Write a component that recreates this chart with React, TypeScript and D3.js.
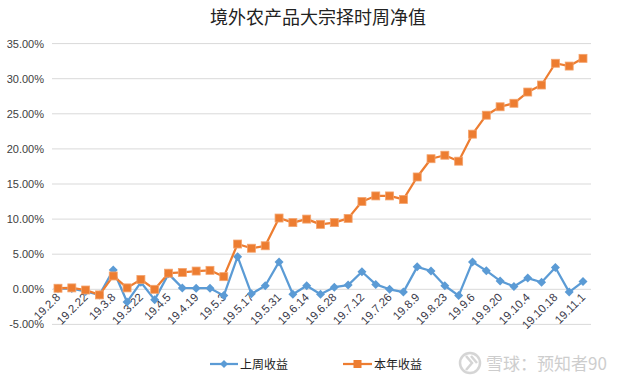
import React from "react";
import * as d3 from "d3";

const categories = [
  "19.2.8", "19.2.15", "19.2.22", "19.3.1", "19.3.8", "19.3.15", "19.3.22", "19.3.29",
  "19.4.5", "19.4.12", "19.4.19", "19.4.26", "19.5.3", "19.5.10", "19.5.17", "19.5.24",
  "19.5.31", "19.6.7", "19.6.14", "19.6.21", "19.6.28", "19.7.5", "19.7.12", "19.7.19",
  "19.7.26", "19.8.2", "19.8.9", "19.8.16", "19.8.23", "19.8.30", "19.9.6", "19.9.13",
  "19.9.20", "19.9.27", "19.10.4", "19.10.11", "19.10.18", "19.10.25", "19.11.1",
];

const weekly = [
  0.1, 0.1, -0.3, -0.8, 2.75, -1.8, 1.0, -1.5, 2.2, 0.2, 0.15, 0.15, -0.9, 4.65, -0.65,
  0.5, 3.9, -0.7, 0.5, -0.7, 0.3, 0.6, 2.5, 0.7, 0.0, -0.4, 3.2, 2.6, 0.5, -0.9, 3.9,
  2.65, 1.2, 0.4, 1.6, 1.0, 3.1, -0.4, 1.1,
];

const ytd = [
  0.15, 0.2, -0.1, -0.8, 1.9, 0.2, 1.4, 0.0, 2.3, 2.4, 2.6, 2.7, 1.8, 6.45, 5.85, 6.2,
  10.15, 9.5, 10.0, 9.25, 9.5, 10.1, 12.5, 13.3, 13.3, 12.8, 16.0, 18.6, 19.1, 18.25,
  22.1, 24.8, 26.0, 26.5, 28.1, 29.1, 32.2, 31.8, 32.9,
];

const yTicks = [-5, 0, 5, 10, 15, 20, 25, 30, 35];

const title = "境外农产品大宗择时周净值";
const seriesNames = ["上周收益", "本年收益"];
const watermark = "雪球：预知者90";

const BLUE = "#5B9BD5";
const ORANGE = "#ED7D31";

export default function App() {
  const W = 636;
  const H = 382;
  const x = d3
    .scalePoint<number>()
    .domain(categories.map((_, i) => i))
    .range([58, 583]);
  const y = d3.scaleLinear().domain([-5, 35]).range([324.4, 43.6]);
  const line = d3
    .line<number>()
    .x((_, i) => x(i) as number)
    .y((d) => y(d));
  const font = "'Liberation Sans', Arial, sans-serif";
  const cjk = "'Noto Sans CJK SC', sans-serif";

  return (
    <svg
      width={W}
      height={H}
      style={{ position: "absolute", left: 0, top: 0, background: "#fff" }}
    >
      <rect width={W} height={H} fill="#fff" />
      <text
        x={318}
        y={24}
        textAnchor="middle"
        fontFamily={cjk}
        fontSize={18}
        fill="#222"
      >
        {title}
      </text>
      {yTicks.map((t) => (
        <g key={t}>
          <line x1={52} x2={591} y1={y(t)} y2={y(t)} stroke="#D9D9D9" strokeWidth={1} />
          <text
            x={44}
            y={y(t) + 4}
            textAnchor="end"
            fontFamily={font}
            fontSize={11}
            fill="#404040"
          >
            {t.toFixed(2) + "%"}
          </text>
        </g>
      ))}
      {categories.map((c, i) =>
        i % 2 === 0 ? (
          <text
            key={c}
            transform={`translate(${(x(i) as number) + 3},${298}) rotate(-45)`}
            textAnchor="end"
            fontFamily={font}
            fontSize={11.5}
            fill="#3a3a4a"
          >
            {c}
          </text>
        ) : null
      )}
      <path d={line(weekly) || ""} fill="none" stroke={BLUE} strokeWidth={2.25} strokeLinejoin="round" />
      {weekly.map((v, i) => {
        const cx = x(i) as number;
        const cy = y(v);
        return (
          <path
            key={"w" + i}
            d={`M${cx},${cy - 4.5}L${cx + 4.5},${cy}L${cx},${cy + 4.5}L${cx - 4.5},${cy}Z`}
            fill={BLUE}
          />
        );
      })}
      <path d={line(ytd) || ""} fill="none" stroke={ORANGE} strokeWidth={2.25} strokeLinejoin="round" />
      {ytd.map((v, i) => {
        const cx = x(i) as number;
        const cy = y(v);
        return (
          <rect
            key={"y" + i}
            x={cx - 4}
            y={cy - 4}
            width={8}
            height={8}
            fill={ORANGE}
            stroke="#F4A46E"
            strokeWidth={0.8}
          />
        );
      })}
      {/* legend */}
      <g>
        <line x1={210} x2={238} y1={364} y2={364} stroke={BLUE} strokeWidth={2.25} />
        <path d="M224,360L228,364L224,368L220,364Z" fill={BLUE} />
        <text x={240} y={368.5} fontFamily={cjk} fontSize={12} fill="#222">
          {seriesNames[0]}
        </text>
        <line x1={343} x2={372} y1={364} y2={364} stroke={ORANGE} strokeWidth={2.25} />
        <rect x={353.5} y={360} width={8} height={8} fill={ORANGE} />
        <text x={374} y={368.5} fontFamily={cjk} fontSize={12} fill="#222">
          {seriesNames[1]}
        </text>
      </g>
      {/* watermark */}
      <g opacity={0.75}>
        <circle cx={470} cy={363} r={10} fill="none" stroke="#c8c8c8" strokeWidth={2.5} />
        <path d="M466,356L472,363L466,370M471,356L477,363" fill="none" stroke="#c8c8c8" strokeWidth={2.5} />
        <text x={486} y={370} fontFamily={cjk} fontSize={17} fill="#bdbdbd">
          {watermark}
        </text>
      </g>
    </svg>
  );
}
